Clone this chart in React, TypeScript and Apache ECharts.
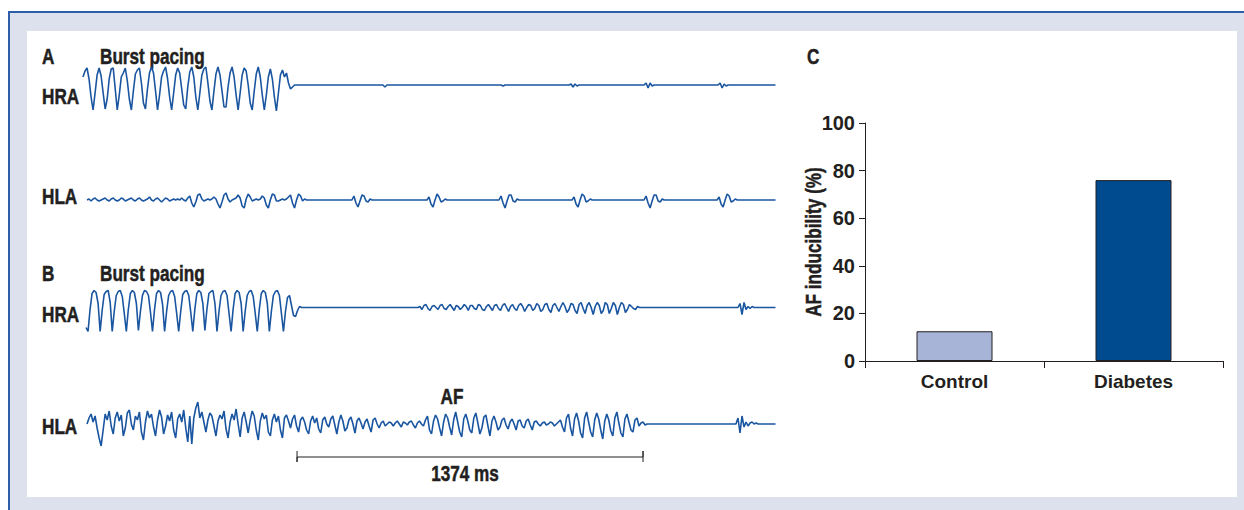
import React, { useEffect, useRef } from "react";
import * as echarts from "echarts";

// ---------- DATA ----------
const STEP_MS = 8; // sampling step of the traces (ms)
const TRACE_END_MS = 2750;

// Panel A – high right atrium (burst pacing then sinus)
const HRA_A_BURST = {
  start: 0,
  values: [
    8, 14, 17, 6, -12, -25, -8, 10, 17, 9, -8, -24, -14, 6, 16, 17, -4, -25, -10, 8,
    12, 17, 4, -14, -25, -6, 11, 15, 17, 2, -18, -24, -4, 12, 18, 12, -6, -25, -10, 8,
    14, 18, 6, -12, -25, -8, 10, 17, 12, -4, -20, -24, -2, 13, 18, 8, -12, -25, -8, 10,
    16, 18, 2, -16, -25, -6, 11, 18, 10, -6, -22, -22, -2, 12, 18, 8, -10, -25, -8, 10,
    17, 14, 0, -18, -25, -6, 11, 18, 8, -10, -25, -10, 8, 16, 6, -12, -26, -8, 10, 15,
    8, 12, 2, -4, -2, 0,
  ],
};
const HRA_A_BLIPS = [
  { start: 1191, values: [0, -2, 0] },
  { start: 1660, values: [0, -1, 0] },
  { start: 1930, values: [0, 1, -2, 1, -1, 0] },
  { start: 2228, values: [0, 2, -3, 2, -1, 0] },
  { start: 2522, values: [0, 2, -3, 1, -1, 0] },
];

// Panel A – high left atrium
const HLA_A_EARLY = {
  start: 16,
  values: [
    0, 1, -1, 1, 2, 0, -1, 0, 1, 2, 0, -1, 1, 2, 0, -1, 0, 2, 1, -1,
    0, 1, 2, 0, -1, 1, 2, 0, -1, 0, 1, 3, 0, -1, 1, 2, 0, -2, 0, 2,
    1, -1, 0, 1, 0, 1, 0, 2, 0, -1, 2, 4, -3, -7, -2, 5, 6, 1, -1, 0,
    1, 0, 1, 3, 1, -4, -8, -2, 5, 7, 1, -2, 0, 1, 2, 5, 2, -6, -8, 1,
    6, 3, -1, 0, 1, 0, 1, 4, 2, -5, -8, 0, 6, 5, -1, -1, 0, 1, 0, 1,
    3, 5, -3, -8, 0, 6, 4, -1, 1, 0,
  ],
};
const HLA_A_COMPLEXES = [
  { start: 1068, values: [0, 4, -3, -7, -1, 5, 4, -1, -2, 1, 0] },
  { start: 1366, values: [0, 3, -4, -7, 0, 6, 3, -2, -1, 1, 0] },
  { start: 1652, values: [0, 4, -3, -8, -1, 5, 5, -1, -2, 1, 0] },
  { start: 1942, values: [0, 3, -4, -7, 0, 6, 4, -2, -1, 1, 0] },
  { start: 2228, values: [0, 4, -3, -8, -1, 5, 5, -1, -2, 1, 0] },
  { start: 2518, values: [0, 3, -4, -7, 0, 6, 4, -2, -1, 1, 0] },
];

// Panel B – high right atrium
const HRA_B_BURST = {
  start: 12,
  values: [
    -20,
    -24, -2, 14, 17, 15, 4,
    -24, -3, 13, 16, 17, 5,
    -24, -4, 12, 16, 17, 11, -6,
    -24, -2, 14, 17, 15, 4,
    -23, -4, 12, 17, 16, 12, -5,
    -24, -2, 14, 17, 15, 3,
    -24, -4, 12, 16, 17, 11, -6,
    -24, -4, 13, 16, 17, 12, -5,
    -24, -2, 14, 17, 15, 4,
    -23, -2, 14, 16, 17, 4,
    -24, -4, 12, 16, 17, 12, -6,
    -24, -2, 14, 17, 15, 4,
    -24, -4, 12, 16, 17, 11, -6,
    -24, -2, 14, 17, 15, 4,
    -24, -4, 12, 16, 17, 12, -6,
    -24, -4, 10, 12, 2, -8, -9, -3, 1, 0, 0,
  ],
};
const HRA_B_AF = {
  start: 1330,
  values: [
    0, 1, -2, 2, 3, -1, -3, 1, 2, 0, -2, 2, 3, -1, -2, 1, 3, 0, -3, 2,
    1, -2, 0, 3, 1, -3, 2, 2, -1, -2, 3, 2, -2, -3, 1, 3, 0, -3, 2, 3,
    -1, -3, 2, 4, 0, -4, 1, 3, -1, -3, 2, 4, 1, -4, 0, 3, 2, -3, -1, 4,
    2, -4, -2, 3, 4, -2, -5, 2, 4, 0, -4, 1, 5, 1, -5, -2, 4, 3, -3, -6,
    3, 5, -1, -6, 2, 5, 0, -7, 1, 5, 2, -6, -3, 5, 3, -6, -1, 5, 2, -7,
    0, 5, 3, -5, -2, 3, 1, -1, -2, 1, 0, 0,
  ],
};
const HRA_B_BLIP = { start: 2601, values: [0, 4, -7, 5, -2, 1, -1, 1, 0, 0] };

// Panel B – high left atrium (AF)
const HLA_B_AF = {
  start: 16,
  values: [
    0, 6, 10, 2, 8, -4, -14, -22, -6, 10, 4, 13, -2, -10, 6, 12, 3, 9, -12, -4,
    11, 14, 0, -6, 8, 4, 12, -8, -16, 2, 13, 6, 10, -3, -12, 4, 14, 7, -10, -2,
    9, 3, 12, -6, -14, 5, 10, 2, 14, -4, -18, 8, -20, 6, 16, 22, 6, 12, 2, -8,
    4, 11, 8, -2, -12, 3, 9, 5, 13, -5, -14, 2, 10, 4, 15, 0, -13, 6, 12, 2,
    -9, 4, 13, 8, -6, -16, 3, 11, 5, 9, -8, -12, 4, 10, 2, 8, -6, -14, 6, 9,
    3, -4, 5, 9, -2, -8, 4, 7, 2, -6, -10, 3, 8, 1, 6, -5, -9, 4, 7, 0,
    -3, 5, 8, -1, -10, 2, 9, 3, -7, -4, 4, 7, 0, -9, 3, 6, 1, -5, 2, 5,
    -2, -8, 4, 6, 0, -4, 1, 3, -2, 0, 2, 1, -2, 1, 3, 0, -3, 2, 1, -1,
    2, 3, -1, -4, 1, 3, 0, -2, 4, 8, -6, -10, 3, 9, 5, -4, -12, 2, 10, 6,
    -3, -11, 4, 12, 2, -8, -13, 5, 10, 3, -6, -9, 6, 11, 1, -10, -4, 7, 9, -2,
    -12, 3, 8, 2, -6, -3, 4, 6, -1, -5, 2, 5, 0, -6, 3, 4, -2, -4, 3, 5,
    -1, -6, 2, 3, 0, -2, 1, 2, -1, 0, 2, 1, -2, 0, 2, 4, -3, -8, 6, 10,
    -4, -12, 5, 11, 3, -9, -14, 6, 12, 2, -8, -13, 4, 11, 5, -6, -15, 3, 10, 4,
    -7, -12, 6, 12, 1, -9, -13, 5, 10, 2, -6, -8, 4, 6, -2, 1, 2, -1, 0, 0,
  ],
};
const HLA_B_BLIP = { start: 2593, values: [0, 6, -9, 8, -3, 2, -2, 1, 2, 0, 1, 0] };

const SCALE_BAR = { start: 850, end: 2224 }; // ms

// Panel C – bar chart
const BAR_CATEGORIES = ["Control", "Diabetes"];
const BAR_VALUES = [12.5, 76];
const Y_TICKS = { min: 0, max: 100, interval: 20 };
const Y_NAME = "AF inducibility (%)";

// ---------- STYLE ----------
const FONT = "'Liberation Sans', Arial, sans-serif";
const NARROW = 0.78;
const TEXT = "#231f20";
const TRACE = "#1a55a0";
const BAR_COLORS = ["#a7b4d7", "#004a90"];

type Seg = { start: number; values: number[] };
function buildTrace(segs: Seg[]): number[][] {
  const pts: number[][] = [];
  segs.forEach((s) => s.values.forEach((v, i) => pts.push([s.start + i * STEP_MS, v])));
  pts.push([TRACE_END_MS, 0]);
  return pts;
}

const TRACE_LEFT = 83;
const TRACE_WIDTH = 692.5;

function traceGrid(top: number, height: number) {
  return { left: TRACE_LEFT, top, width: TRACE_WIDTH, height };
}

function label(text: string, x: number, y: number, align = "left", rotation = 0) {
  return {
    type: "text",
    x,
    y,
    rotation,
    scaleX: NARROW,
    silent: true,
    style: {
      text,
      fill: TEXT,
      stroke: TEXT,
      lineWidth: 0.5,
      fontFamily: FONT,
      fontSize: 22,
      fontWeight: "bold",
      textAlign: align,
      textVerticalAlign: "middle",
    },
  };
}

export default function App() {
  const ref = useRef<HTMLDivElement>(null);
  useEffect(() => {
    if (!ref.current) return;
    const chart = echarts.init(ref.current, null, { renderer: "svg" });
    const traceSeries = (idx: number, data: number[][], color = TRACE, width = 1.6) => ({
      type: "line",
      xAxisIndex: idx,
      yAxisIndex: idx,
      data,
      symbol: "none",
      showSymbol: false,
      clip: false,
      silent: true,
      lineStyle: { color, width },
    });
    const hidX = (i: number) => ({ type: "value", gridIndex: i, min: 0, max: TRACE_END_MS, show: false });
    const hidY = (i: number, min: number, max: number) => ({ type: "value", gridIndex: i, min, max, show: false });
    const axisLine = { show: true, lineStyle: { color: TEXT, width: 1 } };
    const axisLabel = { color: TEXT, fontFamily: FONT, fontWeight: "bold" };

    chart.setOption({
      animation: false,
      grid: [
        traceGrid(55, 60),
        traceGrid(170, 60),
        traceGrid(277.5, 60),
        traceGrid(394, 70),
        { left: 865, top: 123, width: 358, height: 238 },
      ],
      xAxis: [
        hidX(0),
        hidX(1),
        hidX(2),
        hidX(3),
        {
          type: "category",
          gridIndex: 4,
          data: BAR_CATEGORIES,
          axisLine,
          axisTick: { show: true, length: 7, lineStyle: { color: TEXT } },
          axisLabel: { ...axisLabel, fontSize: 19, margin: 11 },
        },
      ],
      yAxis: [
        hidY(0, -30, 30),
        hidY(1, -30, 30),
        hidY(2, -30, 30),
        hidY(3, -40, 30),
        {
          type: "value",
          gridIndex: 4,
          min: Y_TICKS.min,
          max: Y_TICKS.max,
          interval: Y_TICKS.interval,
          splitLine: { show: false },
          axisLine,
          axisTick: { show: true, length: 6, lineStyle: { color: TEXT } },
          axisLabel: { ...axisLabel, fontSize: 20, margin: 10 },
        },
      ],
      series: [
        traceSeries(0, buildTrace([HRA_A_BURST, ...HRA_A_BLIPS])),
        traceSeries(1, buildTrace([HLA_A_EARLY, ...HLA_A_COMPLEXES])),
        traceSeries(2, buildTrace([HRA_B_BURST, HRA_B_AF, HRA_B_BLIP])),
        traceSeries(3, buildTrace([HLA_B_AF, HLA_B_BLIP])),
        traceSeries(
          3,
          [
            [SCALE_BAR.start, -27],
            [SCALE_BAR.start, -38],
            [SCALE_BAR.start, -33],
            [SCALE_BAR.end, -33],
            [SCALE_BAR.end, -27],
            [SCALE_BAR.end, -38],
          ],
          TEXT,
          1
        ),
        {
          type: "bar",
          xAxisIndex: 4,
          yAxisIndex: 4,
          barWidth: 76,
          silent: true,
          data: BAR_VALUES.map((v, i) => ({
            value: v,
            itemStyle: { color: BAR_COLORS[i], borderColor: TEXT, borderWidth: 1 },
          })),
        },
      ],
      graphic: [
        label("A", 42, 56),
        label("Burst pacing", 100, 56),
        label("HRA", 42, 96),
        label("HLA", 42, 196),
        label("B", 42, 273),
        label("Burst pacing", 100, 273),
        label("HRA", 42, 314),
        label("HLA", 42, 426),
        label("AF", 452, 396, "center"),
        label(`${SCALE_BAR.end - SCALE_BAR.start} ms`, 465, 473, "center"),
        label("C", 807, 56),
        label(Y_NAME, 813, 242, "center", Math.PI / 2),
      ],
    });
    return () => chart.dispose();
  }, []);

  return (
    <div style={{ position: "fixed", left: 0, top: 0, width: 1244, height: 510, background: "#fff" }}>
      <div
        style={{
          position: "absolute",
          left: 8,
          top: 11,
          width: 1236,
          height: 499,
          boxSizing: "border-box",
          background: "#dde1ee",
          borderTop: "2px solid #2d5fa8",
          borderLeft: "2px solid #2d5fa8",
        }}
      />
      <div style={{ position: "absolute", left: 27, top: 31, width: 1210, height: 466, background: "#fff" }} />
      <div ref={ref} style={{ position: "absolute", left: 0, top: 0, width: 1244, height: 510 }} />
    </div>
  );
}
